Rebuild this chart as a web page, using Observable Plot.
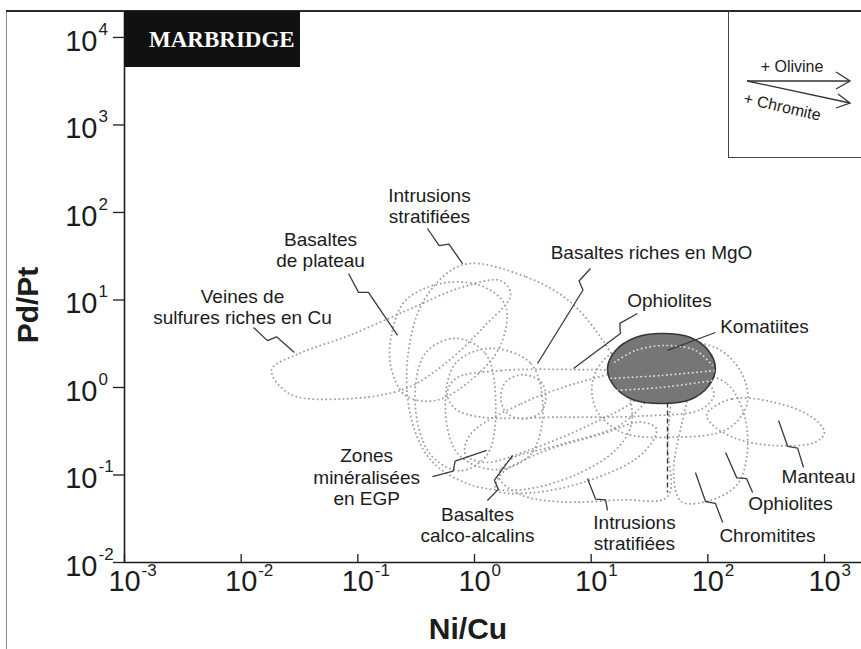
<!DOCTYPE html>
<html>
<head>
<meta charset="utf-8">
<script src="https://cdn.jsdelivr.net/npm/d3@7"></script>
<script src="https://cdn.jsdelivr.net/npm/@observablehq/plot@0.6"></script>
<style>
  body { margin: 0; background: #fff; }
  #wrap { position: relative; width: 861px; height: 649px; overflow: hidden; background: #fff;
          font-family: "Liberation Sans", Arial, Helvetica, sans-serif; }
  #chart { position: absolute; left: 0; top: 0; }
  .ov { position: absolute; }
</style>
</head>
<body>
<div id="wrap">
  <div id="chart"></div>
  <div class="ov" style="left:6px;top:11px;width:1px;height:638px;background:#8a8a8a"></div>
  <div class="ov" style="left:6px;top:10px;width:855px;height:2px;background:#2a2a2a"></div>
  <div class="ov" style="left:124px;top:11px;width:176px;height:56px;background:#111;color:#fff;
       font-family:'Liberation Serif','Times New Roman',serif;font-weight:bold;font-size:23px;
       line-height:58px;padding-left:25px;box-sizing:border-box;letter-spacing:0px">MARBRIDGE</div>
  <div class="ov" style="left:728px;top:11px;width:133px;height:147px;border-left:1.5px solid #444;
       border-bottom:1.5px solid #444;box-sizing:border-box"></div>
  <svg class="ov" style="left:729px;top:11px" width="132" height="146">
    <g stroke="#333" stroke-width="1.3" fill="none">
      <line x1="18" y1="70" x2="121" y2="70"/>
      <polyline points="107,61 121,70 107,78"/>
      <line x1="18" y1="70" x2="121" y2="92"/>
      <polyline points="109,83 121,92 107,97"/>
    </g>
    <text x="63" y="61" text-anchor="middle" font-size="16" fill="#222"
          font-family="Liberation Sans, Arial, sans-serif">+ Olivine</text>
    <text x="52" y="101" text-anchor="middle" font-size="16" fill="#222" transform="rotate(13 52 101)"
          font-family="Liberation Sans, Arial, sans-serif">+ Chromite</text>
  </svg>
</div>
<script>
// ---- axis extents and ticks ----
const xExtent = [1e-3, 2075];
const yExtent = [1e-2, 19800];
const xTicks = [1e-3, 1e-2, 1e-1, 1, 10, 100, 1000];
const xTickExp = ["-3", "-2", "-1", "0", "1", "2", "3"];
const yTicks = [1e-2, 1e-1, 1, 10, 100, 1000, 1e4];
const yTickExp = ["-2", "-1", "0", "1", "2", "3", "4"];
const tickBase = "10";

// ---- field outlines [Ni/Cu, Pd/Pt] ----
const veines = [[0.0182,1.60],[0.0316,2.45],[0.0853,3.95],[0.281,7.9],[0.757,13.8],[1.68,16.6],[2.04,11.4],[1.24,5.15],[0.562,1.88],[0.254,0.966],[0.0773,0.741],[0.0259,0.846]];
const basaltesPlateau = [[0.198,4.48],[0.256,9.87],[0.511,15.4],[1.13,14.6],[1.84,8.65],[1.67,3.02],[0.924,1.20],[0.463,0.710],[0.256,0.811],[0.191,1.78]];
const intrusionsUpper = [[0.804,25.4],[2.75,18.4],[6.46,9.75],[12.2,3.65],[20.0,1.10],[22.1,0.381],[16.4,0.196],[7.43,0.101],[2.49,0.0678],[0.924,0.0774],[0.418,0.150],[0.281,0.498],[0.270,2.45],[0.378,10.5]];
const zonesEGP = [[0.686,3.65],[1.24,2.45],[1.52,0.649],[1.29,0.172],[0.757,0.112],[0.418,0.172],[0.310,0.649],[0.378,2.45]];
const zonesEGP2 = [[1.37,2.80],[3.04,1.88],[3.86,0.568],[3.04,0.172],[1.52,0.115],[0.728,0.172],[0.562,0.568],[0.686,1.88]];
const smallField = [[2.59,1.40],[3.71,1.16],[4.09,0.781],[3.71,0.525],[2.59,0.436],[1.85,0.525],[1.68,0.781],[1.85,1.16]];
const ophiolitesBand = [[0.686,1.26],[1.68,1.56],[8.20,1.60],[32.9,1.52],[88.8,1.26],[113,0.846],[88.8,0.568],[27.0,0.471],[5.51,0.459],[1.13,0.459],[0.686,0.568],[0.585,0.846]];
const basaltesMgO = [[0.924,0.292],[2.49,0.649],[8.20,1.16],[22.1,1.52],[31.6,1.26],[24.4,0.741],[10.0,0.381],[3.04,0.196],[1.24,0.139],[0.836,0.172]];
const calcoAlcalins = [[1.68,0.101],[3.71,0.181],[12.2,0.292],[27.0,0.402],[36.3,0.333],[27.0,0.172],[10.0,0.0883],[3.04,0.0625],[1.52,0.0678]];
const intrusionsLower = [[45.1,1.10],[45.1,0.224],[45.1,0.0564],[18.2,0.052],[5.51,0.0493],[2.49,0.0594],[1.61,0.0957],[2.04,0.150],[5.51,0.224],[18.2,0.381]];
const ophiolitesRight = [[14.9,2.45],[40.1,3.37],[120,2.80],[196,1.44],[217,0.649],[146,0.333],[48.9,0.270],[18.2,0.308],[11.0,0.568],[10.4,1.26]];
const manteau = [[98.0,0.498],[161,0.741],[356,0.684],[757,0.471],[1000,0.308],[836,0.237],[356,0.218],[171,0.263],[108,0.381]];
const chromitites = [[88.8,1.36],[146,1.10],[204,0.498],[217,0.172],[178,0.0774],[108,0.052],[59.7,0.0493],[50.9,0.101],[59.7,0.381],[72.8,0.966]];

// Marbridge komatiites (filled) and field traces visible across it
const komatiites = [[13.8,1.65],[16.2,2.65],[24.0,3.73],[40.1,4.14],[71.0,3.73],[101,2.65],[116,1.65],[101,1.03],[71.0,0.729],[40.1,0.656],[22.6,0.729],[15.8,1.03]];
const komInner1 = [[15.8,1.93],[24.0,2.65],[43.4,3.02],[78.4,2.65],[110,1.78]];
const komInner2 = [[14.6,1.27],[39.3,1.37],[114,1.56]];
const komInner3 = [[15.2,0.924],[39.3,1.0],[110,1.20]];
const komLink = [[45.1,1.27],[45.1,0.0631]];

// ---- labels ----
const labelText = ["Intrusions\nstratifiées", "Basaltes\nde plateau", "Veines de\nsulfures riches en Cu",
  "Basaltes riches en MgO", "Ophiolites", "Komatiites", "Manteau", "Ophiolites", "Chromitites",
  "Intrusions\nstratifiées", "Basaltes\ncalco-alcalins", "Zones\nminéralisées\nen EGP"];
const labelX = [0.411, 0.0479, 0.01026, 32.9, 46.9, 306, 889, 511, 324, 23.5, 1.06, 0.119];
const labelY = [119, 37.8, 8.43, 34.9, 9.87, 4.98, 0.0961, 0.0472, 0.0204, 0.0220, 0.0272, 0.0949];

// ---- leader lines ----
const leadIntrUp = [[0.395,65.6],[0.498,41.8],[0.604,43.4],[0.789,26.1]];
const leadPlateau = [[0.0832,20.1],[0.1014,12.2],[0.1233,12.2],[0.219,3.93]];
const leadVeines = [[0.01276,4.85],[0.0168,3.43],[0.0201,3.79],[0.0286,2.51]];
const leadMgO = [[9.87,22.9],[7.87,16.5],[8.51,13.0],[3.47,1.88]];
const leadOphioUp = [[24.9,7.01],[17.6,5.40],[17.8,4.15],[7.06,1.65]];
const leadKomatiites = [[116,4.25],[45.1,2.65]];
const leadManteau = [[661,0.122],[588,0.203],[484,0.212],[404,0.420]];
const leadOphioLow = [[242,0.0631],[215,0.0908],[177,0.0927],[142,0.181]];
const leadChromitites = [[134,0.0286],[116,0.0475],[95.5,0.0498],[78.3,0.107]];
const leadIntrLow = [[13.8,0.0393],[13.3,0.0519],[10.9,0.0531],[9.30,0.0912]];
const leadCalco = [[1.29,0.0511],[1.60,0.0685],[1.48,0.0872],[2.12,0.167]];
const leadEGP = [[0.436,0.0961],[0.656,0.111],[0.682,0.144],[1.27,0.191]];

// ---- tables ----
const toRows = (groups) => groups.flatMap(([id, pts]) => pts.map(([x, y]) => ({id, x, y})));
const fieldRows = toRows([["veines", veines], ["plateau", basaltesPlateau], ["intrUp", intrusionsUpper],
  ["egp", zonesEGP], ["egp2", zonesEGP2], ["small", smallField], ["ophBand", ophiolitesBand],
  ["mgo", basaltesMgO], ["calco", calcoAlcalins], ["intrLow", intrusionsLower],
  ["ophRight", ophiolitesRight], ["manteau", manteau], ["chrom", chromitites]]);
const komRows = toRows([["kom", komatiites]]);
const komInnerRows = toRows([["k1", komInner1], ["k2", komInner2], ["k3", komInner3]]);
const komLinkRows = toRows([["link", komLink]]);
const leaderRows = toRows([["a", leadIntrUp], ["b", leadPlateau], ["c", leadVeines], ["d", leadMgO],
  ["e", leadOphioUp], ["f", leadKomatiites], ["g", leadManteau], ["h", leadOphioLow],
  ["i", leadChromitites], ["j", leadIntrLow], ["k", leadCalco], ["l", leadEGP]]);
const labelRows = labelText.map((text, i) => ({text, x: labelX[i], y: labelY[i]}));
const xTickRows = xTicks.map((v, i) => ({v, exp: xTickExp[i]}));
const yTickRows = yTicks.map((v, i) => ({v, exp: yTickExp[i]}));

const FONT = "Liberation Sans, Arial, Helvetica, sans-serif";
const ink = "#1c1c1c";

const chart = Plot.plot({
  width: 861, height: 649,
  marginLeft: 124, marginRight: 0, marginTop: 11, marginBottom: 87,
  x: {type: "log", domain: xExtent, axis: null},
  y: {type: "log", domain: yExtent, axis: null},
  style: {fontFamily: FONT, background: "transparent", overflow: "visible"},
  marks: [
    Plot.line(fieldRows, {x: "x", y: "y", z: "id", curve: "catmull-rom-closed", stroke: "#9b9b9b",
      strokeWidth: 1.7, strokeDasharray: "1.7 2.6", strokeLinecap: "butt"}),
    Plot.line(komLinkRows, {x: "x", y: "y", stroke: "#3a3a3a", strokeWidth: 1.4, strokeDasharray: "5 3", strokeLinecap: "butt"}),
    Plot.line(komRows, {x: "x", y: "y", curve: "catmull-rom-closed", fill: "#767676", stroke: "#363636", strokeWidth: 1.6}),
    Plot.line(komInnerRows, {x: "x", y: "y", z: "id", curve: "catmull-rom", stroke: "#e2e2e2",
      strokeWidth: 1.6, strokeDasharray: "1.7 2.6", strokeLinecap: "butt"}),
    Plot.line(leaderRows, {x: "x", y: "y", z: "id", stroke: "#3a3a3a", strokeWidth: 1.3, strokeLinejoin: "miter", strokeLinecap: "butt"}),
    Plot.text(labelRows, {x: "x", y: "y", text: "text", fontSize: 19, lineHeight: 1.13, fill: ink, fontFamily: FONT}),
    // axes
    Plot.ruleX([xExtent[0]], {stroke: ink, strokeWidth: 1.6}),
    Plot.ruleY([yExtent[0]], {stroke: ink, strokeWidth: 1.6}),
    Plot.ruleX(xTickRows, {x: "v", y1: () => yExtent[0], y2: () => yExtent[0], insetTop: -8, stroke: ink, strokeWidth: 1.3}),
    Plot.ruleY(yTickRows, {y: "v", x1: () => xExtent[0], x2: () => xExtent[0], insetLeft: -11, stroke: ink, strokeWidth: 1.3}),
    Plot.text(xTickRows, {x: "v", y: () => yExtent[0], text: () => tickBase, dy: 19, fontSize: 29, fill: ink, fontFamily: FONT}),
    Plot.text(xTickRows, {x: "v", y: () => yExtent[0], text: "exp", dx: 17, dy: 8, textAnchor: "start", fontSize: 17, fill: ink, fontFamily: FONT}),
    Plot.text(yTickRows, {x: () => xExtent[0], y: "v", text: () => tickBase, dx: -27, dy: 4, textAnchor: "end", fontSize: 29, fill: ink, fontFamily: FONT}),
    Plot.text(yTickRows, {x: () => xExtent[0], y: "v", text: "exp", dx: -26, dy: -8, textAnchor: "start", fontSize: 17, fill: ink, fontFamily: FONT}),
    Plot.text(["Ni/Cu"], {frameAnchor: "bottom", textAnchor: "middle", lineAnchor: "middle", dx: -25, dy: 67,
      fontSize: 30, fontWeight: "bold", fill: ink, fontFamily: FONT}),
    Plot.text(["Pd/Pt"], {frameAnchor: "left", textAnchor: "middle", lineAnchor: "middle", rotate: -90, dx: -96, dy: 18,
      fontSize: 30, fontWeight: "bold", fill: ink, fontFamily: FONT})
  ]
});
document.getElementById("chart").appendChild(chart);
</script>
</body>
</html>
